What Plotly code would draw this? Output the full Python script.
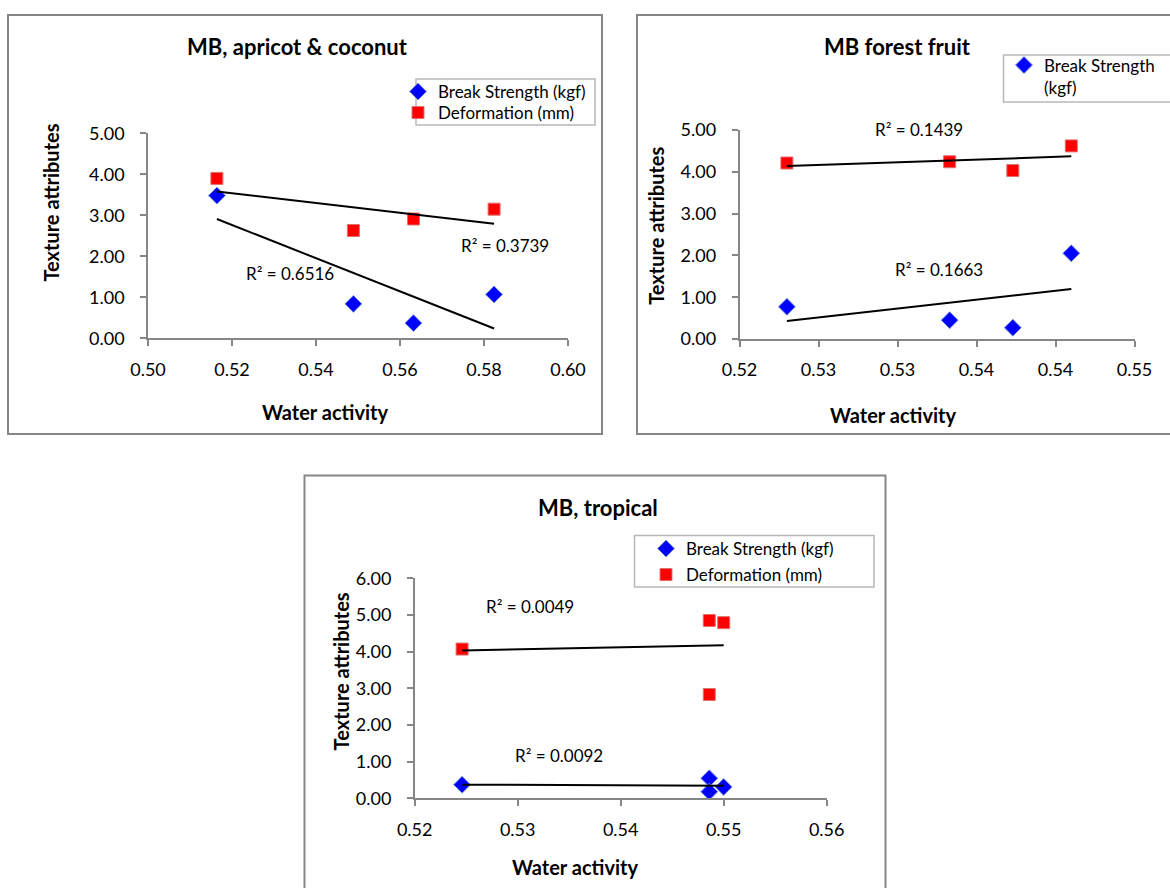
import numpy as np
import plotly.graph_objects as go

# ---------------- data ----------------
# Panel 1: MB, apricot & coconut
p1_aw = [0.5164, 0.5489, 0.5632, 0.5824]
p1_break = [3.48, 0.84, 0.37, 1.07]
p1_deform = [3.90, 2.63, 2.91, 3.15]
p1_r2_break = "R² = 0.6516"
p1_r2_deform = "R² = 0.3739"

# Panel 2: MB forest fruit
p2_aw = [0.5230, 0.5333, 0.5373, 0.5410]
p2_break = [0.77, 0.45, 0.27, 2.05]
p2_deform = [4.21, 4.24, 4.03, 4.62]
p2_r2_break = "R² = 0.1663"
p2_r2_deform = "R² = 0.1439"
p2_xtickvals = [0.520, 0.525, 0.530, 0.535, 0.540, 0.545]
p2_xticktext = ["0.52", "0.53", "0.53", "0.54", "0.54", "0.55"]

# Panel 3: MB, tropical
p3_aw = [0.5246, 0.5486, 0.5486, 0.5500]
p3_break = [0.37, 0.545, 0.18, 0.31]
p3_deform = [4.07, 4.85, 2.83, 4.79]
p3_r2_break = "R² = 0.0092"
p3_r2_deform = "R² = 0.0049"

titles = ["MB, apricot & coconut", "MB forest fruit", "MB, tropical"]
x_title = "Water activity"
y_title = "Texture attributes"
name_break = "Break Strength (kgf)"
name_break_wrapped = "Break Strength<br>(kgf)"
name_deform = "Deformation (mm)"

# ---------------- layout helpers ----------------
W, H = 1170, 888
FONT = "Lato, 'Open Sans', 'DejaVu Sans', sans-serif"
AXIS_GREY = "#868686"


def px(x):
    return x / W


def py(y):
    return 1 - y / H


fig = go.Figure()

BLUE = "#0000FF"
RED = "#FF0000"


def add_panel(idx, aw, brk, dfm, leg_b, leg_d, show_def_legend, brk_name):
    xa = "x" if idx == 1 else f"x{idx}"
    ya = "y" if idx == 1 else f"y{idx}"
    fig.add_trace(go.Scatter(
        x=aw, y=brk, mode="markers", name=brk_name, xaxis=xa, yaxis=ya,
        legend=leg_b, legendgroup=f"b{idx}",
        marker=dict(symbol="diamond", size=13, color=BLUE,
                    line=dict(color="#7b96d6", width=1)),
    ))
    fig.add_trace(go.Scatter(
        x=aw, y=dfm, mode="markers", name=name_deform, xaxis=xa, yaxis=ya,
        legend=leg_d, legendgroup=f"d{idx}", showlegend=show_def_legend,
        marker=dict(symbol="square", size=12, color=RED,
                    line=dict(color="#e07070", width=1)),
    ))
    # linear trendlines (least squares) over the data span
    for ys in (brk, dfm):
        k, b = np.polyfit(aw, ys, 1)
        xs = np.array([min(aw), max(aw)])
        fig.add_trace(go.Scatter(
            x=xs, y=k * xs + b, mode="lines", xaxis=xa, yaxis=ya,
            showlegend=False, hoverinfo="skip",
            line=dict(color="black", width=2),
        ))


add_panel(1, p1_aw, p1_break, p1_deform, "legend", "legend4", True, name_break)
add_panel(2, p2_aw, p2_break, p2_deform, "legend2", "legend2", False, name_break_wrapped)
add_panel(3, p3_aw, p3_break, p3_deform, "legend3", "legend5", True, name_break)


def axis_common():
    return dict(
        showline=True, linecolor=AXIS_GREY, linewidth=1.5,
        ticks="outside", ticklen=6, tickwidth=1.5, tickcolor=AXIS_GREY,
        showgrid=False, zeroline=False, fixedrange=True, automargin=False,
        tickfont=dict(family=FONT, size=18, color="#000"),
    )


fig.update_layout(
    xaxis=dict(**axis_common(), domain=[px(148), px(568)], range=[0.50, 0.60],
               tickvals=[0.50, 0.52, 0.54, 0.56, 0.58, 0.60], tickformat=".2f",
               anchor="y", ticklabelstandoff=8),
    yaxis=dict(**axis_common(), domain=[py(338.3), py(133.3)], range=[0, 5],
               tickvals=[0, 1, 2, 3, 4, 5], tickformat=".2f",
               anchor="x", ticklabelstandoff=12),
    xaxis2=dict(**axis_common(), domain=[px(739.5), px(1134.5)], range=[0.52, 0.545],
                tickvals=p2_xtickvals, ticktext=p2_xticktext,
                anchor="y2", ticklabelstandoff=8),
    yaxis2=dict(**axis_common(), domain=[py(339), py(130)], range=[0, 5],
                tickvals=[0, 1, 2, 3, 4, 5], tickformat=".2f",
                anchor="x2", ticklabelstandoff=12),
    xaxis3=dict(**axis_common(), domain=[px(414.7), px(826.7)], range=[0.52, 0.56],
                tickvals=[0.52, 0.53, 0.54, 0.55, 0.56], tickformat=".2f",
                anchor="y3", ticklabelstandoff=8),
    yaxis3=dict(**axis_common(), domain=[py(798.3), py(578.3)], range=[0, 6],
                tickvals=[0, 1, 2, 3, 4, 5, 6], tickformat=".2f",
                anchor="x3", ticklabelstandoff=12),
)

# Frames and legend boxes
frames = [(8, 15, 602, 434), (637, 15, 1185, 434), (304.5, 475.5, 885.5, 905)]
for x0, y0, x1, y1 in frames:
    fig.add_shape(type="rect", xref="paper", yref="paper",
                  x0=px(x0), x1=px(x1), y0=py(y0), y1=py(y1),
                  line=dict(color=AXIS_GREY, width=2), fillcolor="rgba(0,0,0,0)",
                  layer="below")
legend_boxes = [(416, 79, 595, 125), (1003.5, 55, 1185, 102), (634.5, 535.5, 874, 587)]
for x0, y0, x1, y1 in legend_boxes:
    fig.add_shape(type="rect", xref="paper", yref="paper",
                  x0=px(x0), x1=px(x1), y0=py(y0), y1=py(y1),
                  line=dict(color="#b8b8b8", width=1.5), fillcolor="white",
                  layer="below")


def text(x, y, s, size, bold=False, angle=0):
    fig.add_annotation(
        x=px(x), y=py(y), xref="paper", yref="paper", text=f"<b>{s}</b>" if bold else s,
        showarrow=False, xanchor="center", yanchor="middle", textangle=angle,
        font=dict(family=FONT, size=size, color="#000"),
    )


# titles
text(297, 47, titles[0], 22, bold=True)
text(897, 47, titles[1], 22, bold=True)
text(598, 507, titles[2], 22, bold=True)
# axis titles
text(324.5, 412, x_title, 20, bold=True)
text(50.6, 203, y_title, 20, bold=True, angle=-90)
text(893.4, 414.5, x_title, 20, bold=True)
text(655.8, 226, y_title, 20, bold=True, angle=-90)
text(575.4, 867, x_title, 20, bold=True)
text(341.4, 671, y_title, 20, bold=True, angle=-90)
# R² labels
text(505, 246, p1_r2_deform, 17)
text(290, 273.5, p1_r2_break, 17)
text(919, 130, p2_r2_deform, 17)
text(939, 269.5, p2_r2_break, 17)
text(529.5, 606, p3_r2_deform, 17)
text(559.4, 755, p3_r2_break, 17)

legend_common = dict(
    xanchor="left", yanchor="top", bgcolor="rgba(0,0,0,0)", borderwidth=0,
    font=dict(family=FONT, size=17, color="#000"), itemwidth=30,
    tracegroupgap=0, itemclick=False, itemdoubleclick=False,
)
fig.update_layout(
    legend=dict(**legend_common, x=px(398), y=py(74)),
    legend4=dict(**legend_common, x=px(398), y=py(95)),
    legend2=dict(**legend_common, x=px(1004), y=py(47.5), valign="top"),
    legend3=dict(**legend_common, x=px(646), y=py(531)),
    legend5=dict(**legend_common, x=px(646), y=py(557)),
    width=W, height=H, margin=dict(l=0, r=0, t=0, b=0, autoexpand=False),
    paper_bgcolor="white", plot_bgcolor="white", showlegend=True,
    font=dict(family=FONT),
)

fig.write_html(
    "out.html",
    config={"displayModeBar": False},
    post_script="document.body.style.margin='0';document.body.style.overflow='hidden';",
)
